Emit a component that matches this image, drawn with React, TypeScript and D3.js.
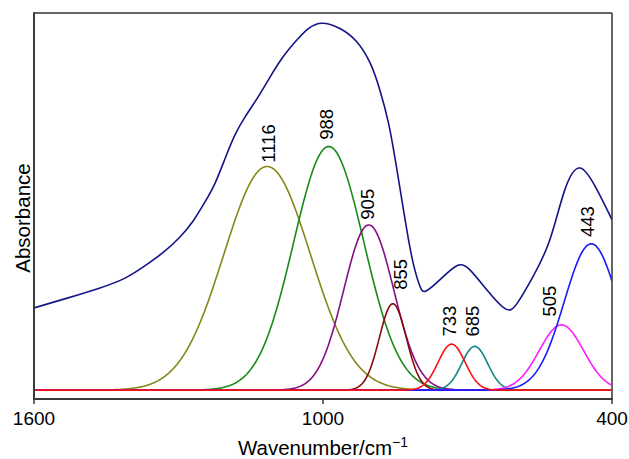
import React from "react";
import * as d3 from "d3";

const WIDTH = 629;
const HEIGHT = 459;

// x axis (wavenumber, cm^-1), reversed
const xDomain = [1600, 400];
const xTicks = [1600, 1000, 400];
const yDomain = [-0.0235, 1.0];

// measured spectrum (navy)
const spectrumWn = [1600, 1531, 1463, 1411, 1367, 1328, 1297, 1270, 1245, 1224, 1203, 1183, 1162, 1135, 1110, 1085, 1058, 1031, 1002, 965, 930, 902, 882, 864, 850, 838, 826, 813, 799, 786, 757, 722, 695, 660, 622, 597, 564, 529, 498, 466, 431, 400];
const spectrumAbs = [0.218, 0.244, 0.271, 0.297, 0.332, 0.369, 0.406, 0.448, 0.499, 0.549, 0.615, 0.676, 0.724, 0.777, 0.830, 0.880, 0.923, 0.958, 0.973, 0.959, 0.924, 0.867, 0.796, 0.708, 0.611, 0.518, 0.425, 0.338, 0.276, 0.263, 0.293, 0.330, 0.319, 0.266, 0.216, 0.230, 0.301, 0.399, 0.531, 0.589, 0.531, 0.452];

// fitted component bands
const bandLabels = ["1116", "988", "905", "855", "733", "685", "505", "443"];
const bandCenters = [1116, 988, 905, 855, 733, 685, 505, 443];
const bandHeights = [0.593, 0.646, 0.438, 0.229, 0.122, 0.116, 0.173, 0.388];
const bandSigmas = [90, 73, 52, 28, 28, 27, 46, 56];
const bandColors = ["#878719", "#178c17", "#860f86", "#860d0d", "#ff1010", "#0f8585", "#ff1aff", "#1a1aff"];
// label anchor (bottom end of the rotated text)
const labelWn = [1114, 992, 907, 840, 737, 690, 530, 451];
const labelAbs = [0.603, 0.664, 0.452, 0.266, 0.142, 0.142, 0.195, 0.406];
// draw order (red last, on top of baseline)
const drawOrder = [0, 1, 2, 3, 5, 6, 7, 4];

const margin = { left: 34, right: 17, top: 13, bottom: 60 };

export default function App() {
  const x = d3.scaleLinear().domain(xDomain).range([margin.left, WIDTH - margin.right]);
  const y = d3.scaleLinear().domain(yDomain).range([HEIGHT - margin.bottom, margin.top]);

  const spectrum = spectrumWn.map((w, i) => [w, spectrumAbs[i]] as [number, number]);
  const spectrumLine = d3
    .line<[number, number]>()
    .x((d) => x(d[0]))
    .y((d) => y(d[1]))
    .curve(d3.curveNatural);

  const grid = d3.range(1600, 399, -2);
  const bandLine = d3
    .line<[number, number]>()
    .x((d) => x(d[0]))
    .y((d) => y(d[1]));
  const bandPath = (i: number) =>
    bandLine(
      grid.map((w) => [
        w,
        bandHeights[i] * Math.exp(-((w - bandCenters[i]) ** 2) / (2 * bandSigmas[i] ** 2)),
      ])
    );

  const x0 = x(xDomain[0]);
  const x1 = x(xDomain[1]);
  const yTop = y(yDomain[1]);
  const yBot = y(yDomain[0]);
  const font = "'Liberation Sans', Arial, Helvetica, sans-serif";

  return (
    <svg
      width={WIDTH}
      height={HEIGHT}
      style={{ position: "absolute", left: 0, top: 0, background: "#fff" }}
      fontFamily={font}
    >
      <defs>
        <clipPath id="plot">
          <rect x={x0} y={yTop} width={x1 - x0} height={yBot - yTop} />
        </clipPath>
      </defs>
      {/* frame */}
      <line x1={x0} x2={x1} y1={yTop} y2={yTop} stroke="#333" strokeWidth={1.5} />
      <line x1={x1} x2={x1} y1={yTop} y2={yBot} stroke="#333" strokeWidth={1.5} />

      <g clipPath="url(#plot)">
        {/* spectrum */}
        <path d={spectrumLine(spectrum) || ""} fill="none" stroke="#141488" strokeWidth={1.6} />

        {/* bands */}
        {drawOrder.map((i) => (
          <path key={i} d={bandPath(i) || ""} fill="none" stroke={bandColors[i]} strokeWidth={1.6} />
        ))}
      </g>

      {/* band labels */}
      {bandLabels.map((t, i) => {
        const lx = x(labelWn[i]);
        const ly = y(labelAbs[i]);
        return (
          <text
            key={t}
            transform={`translate(${lx},${ly}) rotate(-90)`}
            textAnchor="start"
            dominantBaseline="central"
            fontSize={18.5}
            fill="#000"
          >
            {t}
          </text>
        );
      })}

      {/* axes */}
      <line x1={x0} x2={x0} y1={yTop - 0.75} y2={yBot + 1} stroke="#3a3a3a" strokeWidth={2} />
      <line x1={x0 - 1} x2={x1 + 0.75} y1={yBot} y2={yBot} stroke="#3a3a3a" strokeWidth={2} />
      {xTicks.map((t) => (
        <g key={t}>
          <line x1={x(t)} x2={x(t)} y1={yBot} y2={yBot + 5} stroke="#3a3a3a" strokeWidth={1.5} />
          <text x={x(t)} y={yBot + 26} textAnchor="middle" fontSize={19} fill="#000">
            {t}
          </text>
        </g>
      ))}

      <text x={(x0 + x1) / 2} y={455} textAnchor="middle" fontSize={20.5} fill="#000">
        Wavenumber/cm
        <tspan fontSize={14} dy={-8}>
          −1
        </tspan>
      </text>
      <text
        transform={`translate(30,218) rotate(-90)`}
        textAnchor="middle"
        fontSize={20.5}
        fill="#000"
      >
        Absorbance
      </text>
    </svg>
  );
}
